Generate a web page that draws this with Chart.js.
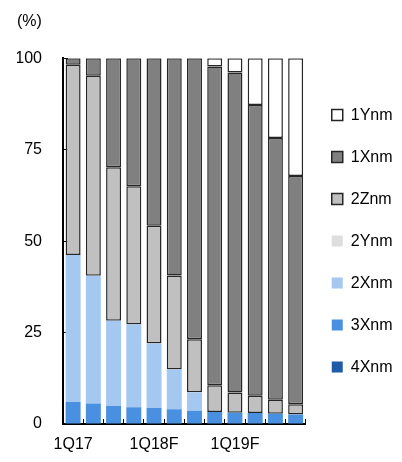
<!DOCTYPE html>
<html>
<head>
<meta charset="utf-8">
<script src="https://cdn.jsdelivr.net/npm/chart.js@4.4.1/dist/chart.umd.min.js"></script>
<style>
  html, body { margin: 0; padding: 0; background: #fff; }
  canvas { display: block; }
</style>
</head>
<body>
<canvas id="chart" width="402" height="462"></canvas>
<script>
// Quarterly node mix (% of output), stacked to 100%
const quarters = ['1Q17', '2Q17', '3Q17', '4Q17', '1Q18F', '2Q18F', '3Q18F', '4Q18F', '1Q19F', '2Q19F', '3Q19F', '4Q19F'];
const yTicks = [0, 25, 50, 75, 100];

const nm4X = [0, 0, 0, 0, 0, 0, 0, 0, 0, 0, 0, 0];
const nm3X = [6.0, 5.6, 4.9, 4.6, 4.4, 4.0, 3.6, 3.3, 3.1, 3.0, 2.8, 2.6];
const nm2X = [40.2, 34.9, 23.3, 22.6, 17.6, 10.9, 5.1, 0, 0, 0, 0, 0];
const nm2Y = [0, 0, 0, 0, 0, 0, 0, 0, 0, 0, 0, 0];
const nm2Z = [52.0, 54.7, 42.0, 37.8, 32.2, 25.7, 14.5, 7.3, 5.5, 4.7, 3.8, 2.8];
const nm1X = [1.8, 4.8, 29.8, 35.0, 45.8, 59.4, 76.8, 87.1, 87.5, 79.5, 71.6, 62.4];
const nm1Y = [0, 0, 0, 0, 0, 0, 0, 2.3, 3.9, 12.8, 21.8, 32.2];

const FONT = { family: '"Liberation Sans", Arial, sans-serif', size: 16, weight: 'normal' };
const EDGE = '#262626';

function outlined(label, data, fill) {
  return { label, data, backgroundColor: fill, borderColor: EDGE, borderWidth: 1.5, borderSkipped: false };
}
function plain(label, data, fill) {
  return { label, data, backgroundColor: fill, borderColor: fill, borderWidth: 0 };
}

new Chart(document.getElementById('chart'), {
  type: 'bar',
  data: {
    labels: quarters,
    datasets: [
      plain('4Xnm', nm4X, '#1f5ba6'),
      plain('3Xnm', nm3X, '#4a90e0'),
      plain('2Xnm', nm2X, '#a4c8f0'),
      plain('2Ynm', nm2Y, '#dedede'),
      outlined('2Znm', nm2Z, '#c0c0c0'),
      outlined('1Xnm', nm1X, '#808080'),
      outlined('1Ynm', nm1Y, '#ffffff')
    ]
  },
  options: {
    responsive: false,
    animation: false,
    devicePixelRatio: 1,
    layout: { padding: { left: 17, right: 0, top: 0, bottom: 9 } },
    datasets: { bar: { barPercentage: 0.74, categoryPercentage: 1.0 } },
    scales: {
      x: {
        stacked: true,
        afterFit: (axis) => { axis.height = 29; },
        grid: { display: true, drawOnChartArea: false, drawTicks: true, tickLength: -5, color: '#000', lineWidth: 1, offset: true },
        border: { display: true, color: '#000', width: 2 },
        ticks: {
          autoSkip: false,
          maxRotation: 0,
          padding: 16,
          color: '#000',
          font: FONT,
          callback: (v, i) => (i % 4 === 0 ? quarters[i] : '')
        }
      },
      y: {
        stacked: true,
        min: 0,
        max: 100,
        afterBuildTicks: (axis) => { axis.ticks = yTicks.map(v => ({ value: v })); },
        afterFit: (axis) => { axis.width = 46; },
        grid: { display: true, drawOnChartArea: false, drawTicks: true, tickLength: -5, color: '#000', lineWidth: 1 },
        border: { display: true, color: '#000', width: 2 },
        ticks: { padding: 26, color: '#000', font: FONT }
      }
    },
    plugins: {
      title: {
        display: true,
        text: '(%)',
        align: 'start',
        color: '#000',
        font: FONT,
        padding: { top: 12, bottom: 27 }
      },
      legend: {
        position: 'right',
        align: 'center',
        fullSize: false,
        reverse: true,
        labels: { boxWidth: 11, boxHeight: 11, padding: 26, color: '#000', font: FONT }
      },
      tooltip: { enabled: false }
    }
  }
});
</script>
</body>
</html>
